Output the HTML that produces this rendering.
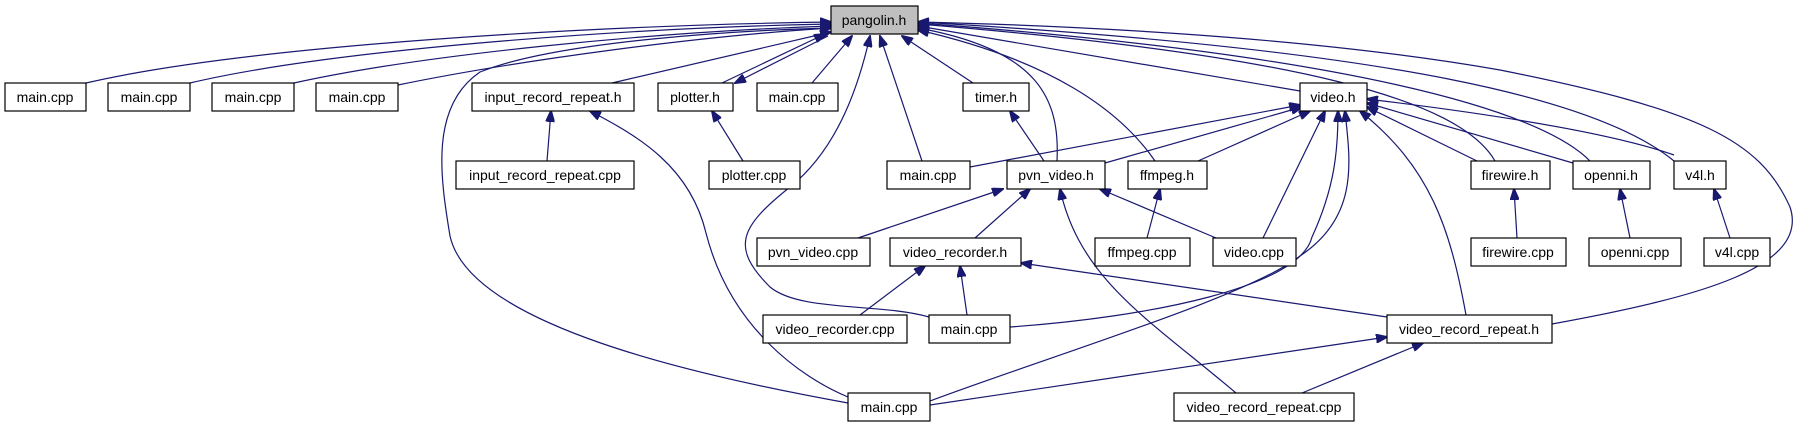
<!DOCTYPE html>
<html><head><meta charset="utf-8"><style>
html,body{margin:0;padding:0;background:#fff;}
svg{display:block}
text{font-family:"Liberation Sans",sans-serif;font-size:14px;fill:#000;text-anchor:middle;}
rect{fill:#fff;stroke:#000;stroke-width:1.2}
path{fill:none;stroke:#191970;stroke-width:1.2}
</style></head><body>
<svg width="1800" height="427" viewBox="0 0 1800 427" xmlns="http://www.w3.org/2000/svg">
<defs><marker id="a" markerWidth="12" markerHeight="9" refX="11" refY="4.5" orient="auto" markerUnits="userSpaceOnUse"><path d="M0,0 L12,4.5 L0,9 Z" style="fill:#191970;stroke:#191970"/></marker></defs>
<g marker-end="url(#a)">
<path d="M86,83 C250,45 600,25 831,22"/>
<path d="M190,83 C330,50 620,28 831,24"/>
<path d="M294,83 C420,55 650,32 831,26"/>
<path d="M398,85 C520,60 700,36 831,28"/>
<path d="M612,83 L831,32"/>
<path d="M722,83 L825,34"/>
<path d="M828,36 L735,83"/>
<path d="M812,83 L852,36"/>
<path d="M848,403 C700,376 470,326 450,236 C440,176 430,106 480,72 C560,40 750,30 831,28"/>
<path d="M922,161 L880,36"/>
<path d="M973,83 L902,36"/>
<path d="M1057,161 C1060,100 1040,50 918,28"/>
<path d="M1155,161 C1120,110 1050,60 918,30"/>
<path d="M1300,91 L918,26"/>
<path d="M1495,161 C1460,100 1300,55 918,24"/>
<path d="M1590,161 C1540,110 1350,55 918,23"/>
<path d="M1674,161 C1600,100 1400,50 918,22"/>
<path d="M1552,324 C1700,297 1810,267 1790,207 C1760,140 1700,110 1500,70 C1300,35 1050,25 918,22"/>
<path d="M970,167 L1300,105"/>
<path d="M1105,163 L1302,107"/>
<path d="M1198,161 L1310,111"/>
<path d="M1263,238 L1325,111"/>
<path d="M1010,327 C1150,317 1300,287 1312,237 C1335,187 1338,150 1338,111"/>
<path d="M930,401 C1050,356 1250,296 1300,256 C1360,216 1350,160 1345,111"/>
<path d="M1466,315 C1450,227 1430,167 1360,111"/>
<path d="M1477,161 L1367,107"/>
<path d="M1573,163 L1367,103"/>
<path d="M1674,155 C1600,129 1450,109 1367,99"/>
<path d="M547,161 L551,111"/>
<path d="M743,161 L712,111"/>
<path d="M848,397 C800,377 730,327 706,233 C690,167 640,137 590,111"/>
<path d="M1044,161 L1010,111"/>
<path d="M858,238 L1003,189"/>
<path d="M975,238 L1030,189"/>
<path d="M1236,393 C1150,320 1080,280 1060,189"/>
<path d="M1216,238 L1100,189"/>
<path d="M1147,238 L1160,189"/>
<path d="M1517,238 L1514,189"/>
<path d="M1630,238 L1620,189"/>
<path d="M1730,238 L1714,189"/>
<path d="M860,315 L925,266"/>
<path d="M967,315 L960,266"/>
<path d="M1387,317 L1021,263"/>
<path d="M929,317 C880,303 800,312 770,287 C730,247 740,227 790,187 C840,147 860,80 870,36"/>
<path d="M930,405 L1387,337"/>
<path d="M1302,393 L1423,343"/>
</g>
<rect x="831" y="6" width="87" height="28" style="fill:#bfbfbf"/><text x="874" y="25">pangolin.h</text>
<rect x="5" y="83" width="81" height="28"/><text x="45" y="102">main.cpp</text>
<rect x="108" y="83" width="82" height="28"/><text x="149" y="102">main.cpp</text>
<rect x="212" y="83" width="82" height="28"/><text x="253" y="102">main.cpp</text>
<rect x="316" y="83" width="82" height="28"/><text x="357" y="102">main.cpp</text>
<rect x="472" y="83" width="162" height="28"/><text x="553" y="102">input_record_repeat.h</text>
<rect x="658" y="83" width="75" height="28"/><text x="695" y="102">plotter.h</text>
<rect x="757" y="83" width="81" height="28"/><text x="797" y="102">main.cpp</text>
<rect x="963" y="83" width="66" height="28"/><text x="996" y="102">timer.h</text>
<rect x="1300" y="83" width="67" height="28"/><text x="1333" y="102">video.h</text>
<rect x="456" y="161" width="178" height="28"/><text x="545" y="180">input_record_repeat.cpp</text>
<rect x="709" y="161" width="91" height="28"/><text x="754" y="180">plotter.cpp</text>
<rect x="887" y="161" width="83" height="28"/><text x="928" y="180">main.cpp</text>
<rect x="1007" y="161" width="98" height="28"/><text x="1056" y="180">pvn_video.h</text>
<rect x="1128" y="161" width="79" height="28"/><text x="1167" y="180">ffmpeg.h</text>
<rect x="1471" y="161" width="79" height="28"/><text x="1510" y="180">firewire.h</text>
<rect x="1573" y="161" width="77" height="28"/><text x="1611" y="180">openni.h</text>
<rect x="1674" y="161" width="52" height="28"/><text x="1700" y="180">v4l.h</text>
<rect x="757" y="238" width="113" height="28"/><text x="813" y="257">pvn_video.cpp</text>
<rect x="890" y="238" width="131" height="28"/><text x="955" y="257">video_recorder.h</text>
<rect x="1095" y="238" width="95" height="28"/><text x="1142" y="257">ffmpeg.cpp</text>
<rect x="1213" y="238" width="83" height="28"/><text x="1254" y="257">video.cpp</text>
<rect x="1471" y="238" width="95" height="28"/><text x="1518" y="257">firewire.cpp</text>
<rect x="1589" y="238" width="92" height="28"/><text x="1635" y="257">openni.cpp</text>
<rect x="1704" y="238" width="66" height="28"/><text x="1737" y="257">v4l.cpp</text>
<rect x="763" y="315" width="144" height="28"/><text x="835" y="334">video_recorder.cpp</text>
<rect x="929" y="315" width="81" height="28"/><text x="969" y="334">main.cpp</text>
<rect x="1387" y="315" width="165" height="28"/><text x="1469" y="334">video_record_repeat.h</text>
<rect x="848" y="393" width="82" height="28"/><text x="889" y="412">main.cpp</text>
<rect x="1174" y="393" width="180" height="28"/><text x="1264" y="412">video_record_repeat.cpp</text>
</svg>
</body></html>
